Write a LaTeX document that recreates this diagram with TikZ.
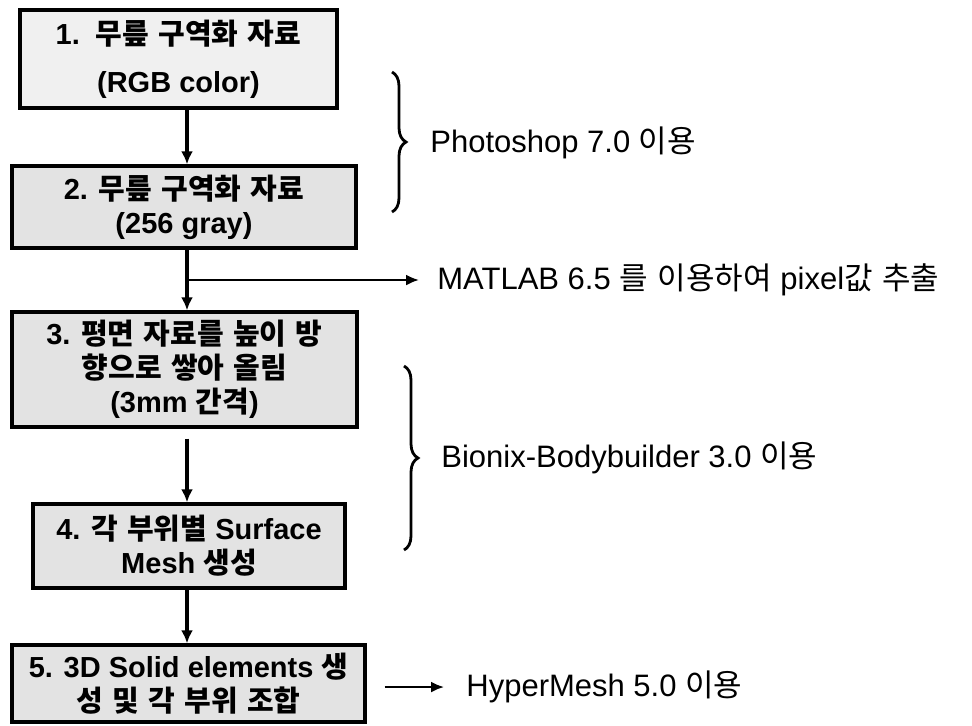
\documentclass[tikz,border=0pt]{standalone}
\usepackage{fontspec}
\setmainfont{Liberation Sans}
\newfontfamily\krfont{Noto Sans CJK KR}[WordSpace=2.2]
\newfontfamily\krtoolfont{Noto Sans CJK KR}[WordSpace=1.4]
\newcommand\kr[1]{{\krfont #1}}
\newcommand\krtool[1]{{\krtoolfont #1}}
\usetikzlibrary{
    arrows.meta,
    decorations.pathreplacing,
    positioning,
}
\tikzset{
    stepbox/.style={
        draw=black, line width=1.7pt, fill=black!11, inner sep=0pt,
        align=center, font=\bfseries\fontsize{14.5}{17}\selectfont,
    },
    toollabel/.style={anchor=west, inner xsep=7pt, font=\fontsize{15.5}{17}\selectfont},
    flow/.style={line width=1.6pt, -{Latex[length=6.5pt,width=6pt]}},
    side/.style={line width=1.1pt, -{Latex[length=6.5pt,width=5.5pt]}},
    curly/.style={line width=1.4pt, decorate, decoration={brace, amplitude=7pt}},
}

\begin{document}
\begin{tikzpicture}[x=0.5pt, y=-0.5pt]
    \useasboundingbox (0,0) rectangle (972,725);
    \coordinate (spine) at (187,0);

    % steps
    \node[stepbox, fill=black!6, minimum width=158.5pt, minimum height=49pt] (s1) at (178.5,59)
        {1.\ \ \kr{무릎 구역화 자료}\\[7pt] (RGB color)};
    \node[stepbox, minimum width=172pt, minimum height=41pt] (s2) at (184,207)
        {2. \kr{무릎 구역화 자료}\\ (256 gray)};
    \node[stepbox, minimum width=172.5pt, minimum height=57.5pt] (s3) at (184.5,369.5)
        {3. \kr{평면 자료를 높이 방}\\ \kr{향으로 쌓아 올림}\\ (3mm \kr{간격})};
    \node[stepbox, minimum width=156pt, minimum height=42pt] (s4) at (189,546)
        {4. \kr{각 부위별} Surface\\ Mesh \kr{생성}};
    \node[stepbox, minimum width=176.5pt, minimum height=38.5pt] (s5) at (188.5,683.5)
        {5. 3D Solid elements \kr{생}\\ \kr{성 및 각 부위 조합}};

    % tools
    \node[toollabel] (photoshop) at (416,143) {Photoshop 7.0 \krtool{이용}};
    \node[toollabel] (matlab) at (423,280) {MATLAB 6.5 \krtool{를 이용하여} pixel\krtool{값 추출}};
    \node[toollabel] (bionix) at (427,458) {Bionix-Bodybuilder 3.0 \krtool{이용}};
    \node[toollabel] (hypermesh) at (452,687) {HyperMesh 5.0 \krtool{이용}};

    % flow
    \draw[flow] (s1.south -| spine) -- (s2.north -| spine);
    \draw[flow] (s2.south -| spine) -- (s3.north -| spine);
    \draw[flow, shorten <=5pt] (s3.south -| spine) -- (s4.north -| spine);
    \draw[flow] (s4.south -| spine) -- (s5.north -| spine);

    \coordinate (fork) at (spine |- matlab.west);
    \draw[side] (fork) -- ([xshift=-2pt]matlab.west);
    \draw[side] ([xshift=9pt]s5.east |- hypermesh.west) -- ([xshift=-4pt]hypermesh.west);

    % braces
    \coordinate (ps top) at (392,72);
    \coordinate (ps bot) at (392,212);
    \coordinate (bb top) at (404,366);
    \coordinate (bb bot) at (404,550);
    \draw[curly] (ps top) -- (ps bot);
    \draw[curly] (bb top) -- (bb bot);
\end{tikzpicture}
\end{document}
